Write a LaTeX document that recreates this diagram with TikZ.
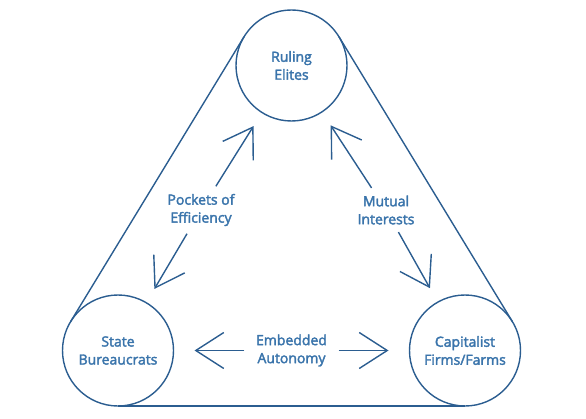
\documentclass[tikz,border=0pt]{standalone}
\usepackage{fontspec}
\setmainfont{Open Sans}[FakeBold=2.5]
\usetikzlibrary{arrows.meta,calc,positioning}
\definecolor{lineblue}{HTML}{2B5D90}
\definecolor{txtblue}{HTML}{3A74AB}
\newcommand{\circr}{55.5pt}

\begin{document}
\begin{tikzpicture}[x=1pt, y=1pt, line width=1.4pt, lineblue, text=txtblue, font=\fontsize{14}{18}\selectfont]

    \tikzstyle{actor} = [circle, draw=lineblue, minimum size=111pt, inner sep=0pt, outer sep=0pt, align=center]
    \tikzstyle{rel} = [align=center, inner xsep=11pt, inner ysep=7pt]
    \tikzstyle{tip} = [-{Straight Barb[length=28pt, width=36pt]}, shorten >=16pt]

    \useasboundingbox (0,0) rectangle (586,418);

    \node (elite)    [actor] at (291.5,352.5)                                 {Ruling\\Elites};
    \node (state)    [actor, on grid, below left=285pt and 173.5pt of elite]  {State\\Bureaucrats};
    \node (capital)  [actor, on grid, right=347pt of state]                   {Capitalist\\Firms/Farms};

    \node (pockets)  [rel] at (201,208)        {Pockets of\\Efficiency};
    \node (mutual)   [rel] at (386,208)        {Mutual\\Interests};
    \node (embedded) [rel] at (state -| elite) {Embedded\\Autonomy};

    % outer triangle, tangent to the three circles
    \draw ($(elite.center)!\circr!-90:(state.center)$) -- ($(state.center)!\circr!90:(elite.center)$);
    \draw ($(state.center)!\circr!-90:(capital.center)$) -- ($(capital.center)!\circr!90:(state.center)$);
    \draw ($(capital.center)!\circr!-90:(elite.center)$) -- ($(elite.center)!\circr!90:(capital.center)$);

    \path[tip]  (pockets)   edge  (elite)  edge  (state);
    \path[tip]  (mutual)    edge  (elite)  edge  (capital);
    \path[tip, shorten >=21pt]  (embedded)  edge  (state)  edge  (capital);
\end{tikzpicture}
\end{document}
